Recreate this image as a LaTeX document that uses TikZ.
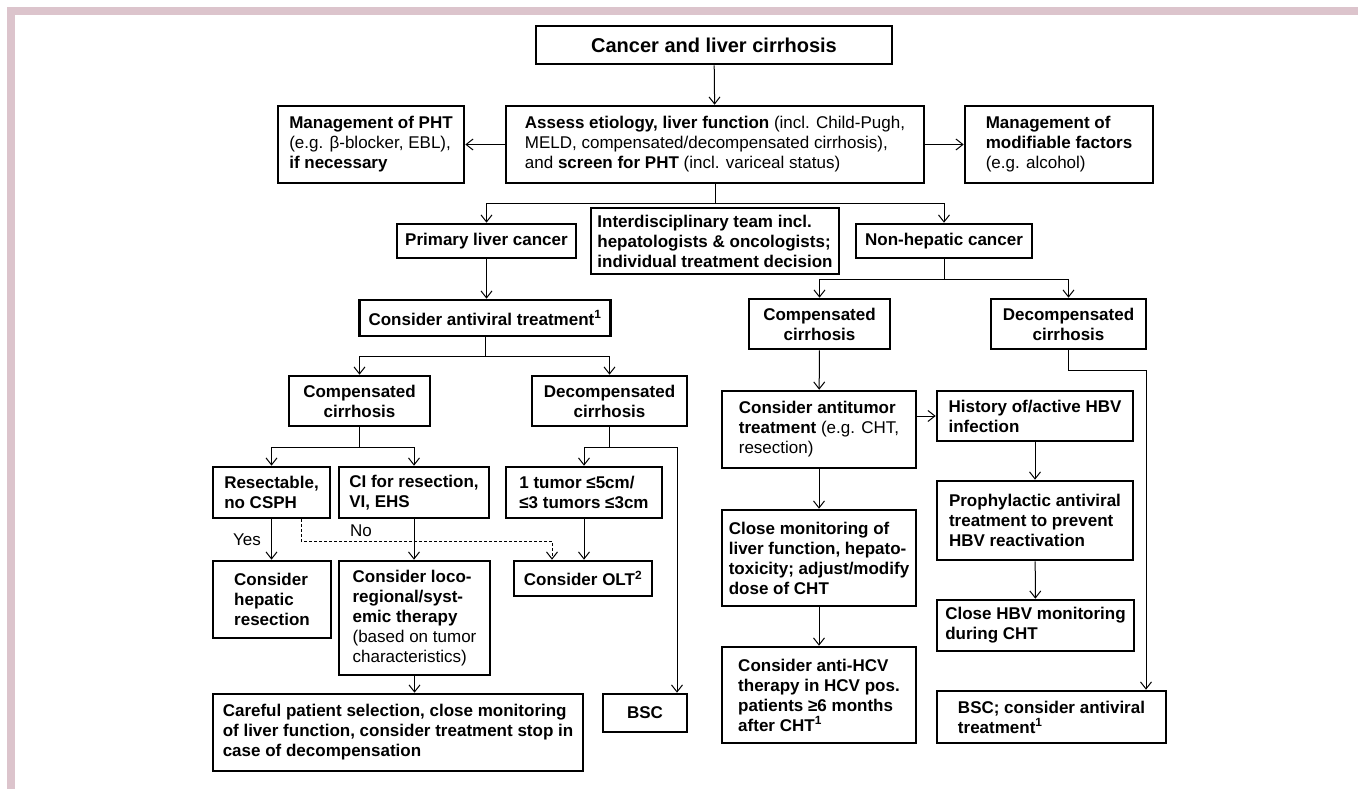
\documentclass[tikz,border=0pt]{standalone}
\usepackage{fontspec}
\setmainfont{Liberation Sans}
\usetikzlibrary{arrows.meta}
\definecolor{framepink}{RGB}{220,196,204}
\newcommand{\regtxt}[1]{{\mdseries #1}}
\tikzset{
  box/.style={draw, line width=2.6pt, inner xsep=6pt, inner ysep=2pt,
    font=\fontsize{17}{20}\selectfont\bfseries, align=left},
  cbox/.style={box, align=center},
  link/.style={line width=1pt, -{Straight Barb[length=7pt,width=11pt]}},
  wire/.style={line width=1pt},
  tag/.style={font=\fontsize{17}{20}\selectfont, inner sep=0pt},
}
\begin{document}
\begin{tikzpicture}[x=1pt, y=-1pt]
  \useasboundingbox (0,0) rectangle (1358,789);

  % Pink frame, top and left
  \fill[framepink] (7,7) rectangle (1358,15);
  \fill[framepink] (7,7) rectangle (15,789);

  % Top row
  \node[cbox, font=\fontsize{20}{24}\selectfont\bfseries, minimum width=356pt, minimum height=38pt] (top) at (714,45) {Cancer and liver cirrhosis};
  \node[box, minimum width=418pt, minimum height=77pt] (assess) at (715,144.5)
    {Assess etiology, liver function \regtxt{(incl. Child-Pugh,}\\
     \regtxt{MELD, compensated/decompensated cirrhosis),}\\
     \regtxt{and} screen for PHT \regtxt{(incl. variceal status)}};
  \node[box, minimum width=186pt, minimum height=77pt] (pht) at (371,144.5)
    {Management of PHT\\\regtxt{(e.g. β-blocker, EBL),}\\if necessary};
  \node[box, minimum width=188pt, minimum height=77pt] (modif) at (1059,144.5)
    {Management of\\modifiable factors\\\regtxt{(e.g. alcohol)}};

  % Second row
  \node[cbox, minimum width=179pt, minimum height=34pt] (primary) at (486.5,241) {Primary liver cancer};
  \node[box, minimum width=248pt, minimum height=66pt] (team) at (715,241)
    {Interdisciplinary team incl.\\hepatologists \& oncologists;\\individual treatment decision};
  \node[cbox, minimum width=176pt, minimum height=34pt] (nonhep) at (944,241) {Non-hepatic cancer};

  % Primary liver cancer branch
  \node[cbox, minimum width=251pt, minimum height=36pt] (antiviral) at (485,318) {Consider antiviral treatment\textsuperscript{1}};
  \node[cbox, minimum width=141pt, minimum height=50pt] (compL) at (359.5,401) {Compensated\\cirrhosis};
  \node[cbox, minimum width=155pt, minimum height=50pt] (decompL) at (609.5,401) {Decompensated\\cirrhosis};
  \node[box, minimum width=117pt, minimum height=51pt] (resect) at (271.5,492.5) {Resectable,\\no CSPH};
  \node[box, minimum width=150pt, minimum height=51pt] (ci) at (414,492.5) {CI for resection,\\VI, EHS};
  \node[box, minimum width=156pt, minimum height=51pt] (tumor) at (584,492.5) {1 tumor ≤5cm/\\≤3 tumors ≤3cm};
  \node[box, minimum width=118pt, minimum height=77pt] (hepres) at (272,599.5) {Consider\\hepatic\\resection};
  \node[box, minimum width=151pt, minimum height=114pt] (loco) at (414.5,618)
    {Consider loco-\\regional/syst-\\emic therapy\\\regtxt{(based on tumor}\\\regtxt{characteristics)}};
  \node[cbox, minimum width=138pt, minimum height=35pt] (olt) at (583,578.5) {Consider OLT\textsuperscript{2}};
  \node[box, minimum width=370pt, minimum height=77pt] (careful) at (398,732.5)
    {Careful patient selection, close monitoring\\of liver function, consider treatment stop in\\case of decompensation};
  \node[cbox, minimum width=84pt, minimum height=38pt] (bscL) at (645,713) {BSC};

  % Non-hepatic cancer branch
  \node[cbox, minimum width=141pt, minimum height=50pt] (compR) at (819.5,324) {Compensated\\cirrhosis};
  \node[cbox, minimum width=155pt, minimum height=50pt] (decompR) at (1068.5,324) {Decompensated\\cirrhosis};
  \node[box, minimum width=194pt, minimum height=77pt] (antitumor) at (819,429.5)
    {Consider antitumor\\treatment \regtxt{(e.g. CHT,}\\\regtxt{resection)}};
  \node[box, minimum width=196pt, minimum height=50pt] (hbv) at (1035,416) {History of/active HBV\\infection};
  \node[box, minimum width=196pt, minimum height=79pt] (prophyl) at (1035,520.5)
    {Prophylactic antiviral\\treatment to prevent\\HBV reactivation};
  \node[box, minimum width=197pt, minimum height=51pt] (closehbv) at (1035.5,625.5) {Close HBV monitoring\\during CHT};
  \node[box, minimum width=194pt, minimum height=96pt] (closemon) at (819,558)
    {Close monitoring of\\liver function, hepato-\\toxicity; adjust/modify\\dose of CHT};
  \node[box, minimum width=194pt, minimum height=96pt] (hcv) at (819,695)
    {Consider anti-HCV\\therapy in HCV pos.\\patients ≥6 months\\after CHT\textsuperscript{1}};
  \node[box, minimum width=229pt, minimum height=52pt] (bscR) at (1051.5,717) {BSC; consider antiviral\\treatment\textsuperscript{1}};

  % Connectors at the top
  \draw[link] (top) -- (assess);
  \draw[link] (assess) -- (pht);
  \draw[link] (assess) -- (modif);
  \coordinate (fork1) at (715,203);
  \draw[wire] (assess.south) -- (fork1);
  \draw[link] (fork1) -| (primary.north);
  \draw[link] (fork1) -| (nonhep.north);

  % Connectors, primary liver cancer
  \draw[link] (primary.south) -- (primary.south |- antiviral.north);
  \coordinate (fork2) at (485,356);
  \draw[wire] (antiviral.south) -- (fork2);
  \draw[link] (fork2) -| (compL.north);
  \draw[link] (fork2) -| (decompL.north);
  \coordinate (fork3) at (359.5,447);
  \draw[wire] (compL.south) -- (fork3);
  \draw[link] (fork3) -| (resect.north);
  \draw[link] (fork3) -| (ci.north);
  \coordinate (fork4) at (609.5,447);
  \draw[wire] (decompL.south) -- (fork4);
  \draw[link] (fork4) -| (tumor.north);
  \draw[link] (fork4) -| ([xshift=32pt]bscL.north);
  \draw[link] (resect.south) -- (resect.south |- hepres.north);
  \draw[link] (ci.south) -- (ci.south |- loco.north);
  \draw[link] (tumor.south) -- (tumor.south |- olt.north);
  \draw[link] (loco.south) -- (loco.south |- careful.north);
  \draw[link, dash pattern=on 3pt off 2pt] ([xshift=29.5pt]resect.south) -- ++(0,22) -| ([xshift=-31pt]olt.north);
  \node[tag] (yes) at (247,540) {Yes};
  \node[tag] (no) at (361,531) {No};

  % Connectors, non-hepatic cancer
  \coordinate (fork5) at (944,279);
  \draw[wire] (nonhep.south) -- (fork5);
  \draw[link] (fork5) -| (compR.north);
  \draw[link] (fork5) -| (decompR.north);
  \draw[link] (compR) -- (antitumor);
  \draw[link] (decompR.south) -- ++(0,20) -| ([xshift=94.5pt]bscR.north);
  \draw[link] (antitumor.east |- hbv.west) -- (hbv.west);
  \draw[link] (hbv) -- (prophyl);
  \draw[link] (prophyl) -- (closehbv);
  \draw[link] (antitumor) -- (closemon);
  \draw[link] (closemon) -- (hcv);
\end{tikzpicture}
\end{document}
